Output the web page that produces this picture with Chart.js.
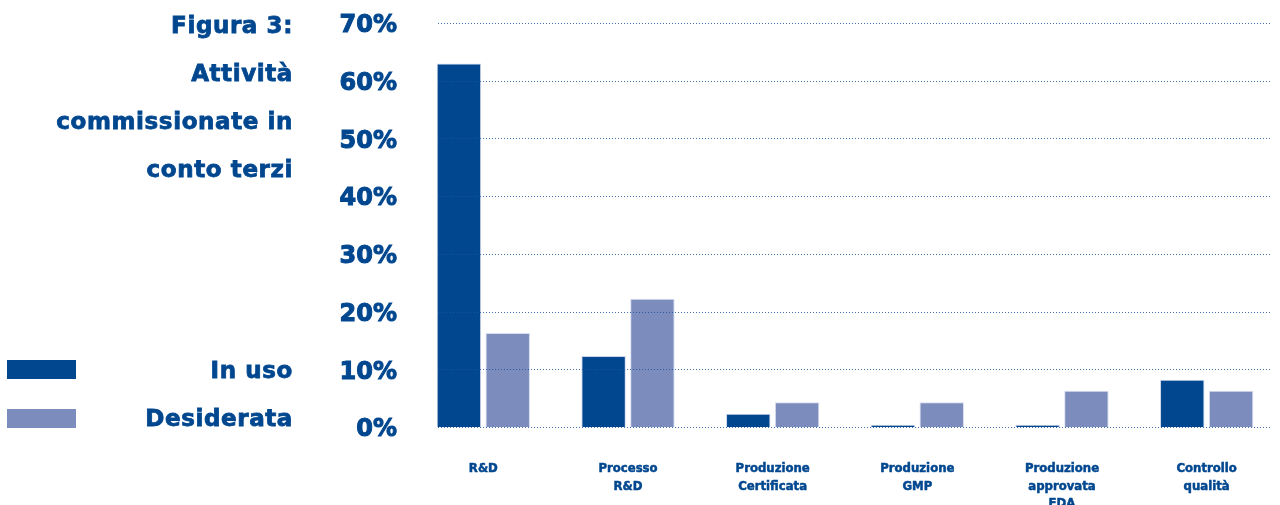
<!DOCTYPE html>
<html>
<head>
<meta charset="utf-8">
<script src="https://cdn.jsdelivr.net/npm/chart.js@4.4.0/dist/chart.umd.min.js"></script>
<style>
  body { margin: 0; background: #fff; }
  #wrap { position: relative; width: 1280px; height: 505px; overflow: hidden; }
  #myChart { position: absolute; left: 0; top: 0; }
  .side { position: absolute; left: 0; width: 293px; text-align: right;
          font-family: "DejaVu Sans", sans-serif; font-weight: bold; color: #00478f;
          font-size: 23px; letter-spacing: 0.6px; -webkit-text-stroke: 0.8px #00478f; }
  #title { top: 1px; line-height: 48px; }
  .key { position: absolute; left: 7px; width: 69px; height: 19px; }
</style>
</head>
<body>
<div id="wrap">
  <canvas id="myChart" width="1280" height="505"></canvas>
  <div id="title" class="side">Figura 3:<br>Attività<br>commissionate in<br>conto terzi</div>
  <div class="key" style="top:360px; background:#00478f;"></div>
  <div class="key" style="top:409px; background:#7b8cbd;"></div>
  <div class="side" style="top:355px; line-height:30px;">In uso</div>
  <div class="side" style="top:403px; line-height:30px;">Desiderata</div>
</div>
<script>
const categories = [
  'R&D',
  ['Processo', 'R&D'],
  ['Produzione', 'Certificata'],
  ['Produzione', 'GMP'],
  ['Produzione', 'approvata', 'FDA'],
  ['Controllo', 'qualità'],
];

const inUso = [63, 12.3, 2.3, 0.4, 0.4, 8.2];
const desiderata = [16.3, 22.2, 4.3, 4.3, 6.3, 6.3];

const yTicks = [0, 10, 20, 30, 40, 50, 60, 70];

const darkBlue = '#00478f';
const lightBlue = '#7b8cbd';

// dotted horizontal lines, drawn over the bars
const dottedGrid = {
  id: 'dottedGrid',
  afterDatasetsDraw(chart) {
    const ctx = chart.ctx;
    const y = chart.scales.y;
    ctx.save();
    ctx.strokeStyle = 'rgba(30,85,160,0.85)';
    ctx.lineWidth = 1;
    ctx.setLineDash([1, 2]);
    yTicks.forEach(function(v){
      const py = Math.round(y.getPixelForValue(v)) + 0.5;
      ctx.beginPath();
      ctx.moveTo(438, py);
      ctx.lineTo(1270, py);
      ctx.stroke();
    });
    ctx.restore();
  }
};

const data = {
  labels: categories,
  datasets: [
    {
      label: 'In uso',
      backgroundColor: darkBlue,
      borderColor: 'rgba(205,212,235,1)',
      borderWidth: 1,
      data: inUso,
    },
    {
      label: 'Desiderata',
      backgroundColor: lightBlue,
      borderColor: 'rgba(215,220,240,1)',
      borderWidth: 1,
      data: desiderata,
    }
  ]
};

const config = {
  type: 'bar',
  data: data,
  options: {
    responsive: false,
    animation: false,
    layout: { padding: { top: 23, right: 1, left: 0, bottom: 0 } },
    categoryPercentage: 0.675,
    barPercentage: 0.91,
    plugins: {
      legend: { display: false },
      tooltip: { enabled: false },
    },
    scales: {
      x: {
        grid: { display: false, drawTicks: false },
        border: { display: false },
        afterFit: function(scale){
          scale.height = 78;
          scale.paddingLeft = 0;
          scale.paddingRight = 0;
        },
        ticks: {
          padding: 33,
          color: darkBlue,
          textStrokeColor: darkBlue,
          textStrokeWidth: 0.5,
          maxRotation: 0,
          autoSkip: false,
          font: { family: '"DejaVu Sans Condensed", "DejaVu Sans", sans-serif', weight: 'bold', size: 13, lineHeight: 1.35 },
        }
      },
      y: {
        min: 0,
        max: 70,
        grid: { display: false, drawTicks: false },
        border: { display: false },
        afterFit: function(scale){
          scale.width = 411;
          scale.paddingTop = 0;
          scale.paddingBottom = 0;
        },
        afterBuildTicks: function(scale){
          scale.ticks = yTicks.map(function(v){ return { value: v }; });
        },
        ticks: {
          padding: 14,
          labelOffset: 3,
          color: darkBlue,
          textStrokeColor: darkBlue,
          textStrokeWidth: 1,
          font: { family: '"DejaVu Sans", sans-serif', weight: 'bold', size: 24 },
          callback: function(v){ return v + '%'; }
        }
      }
    }
  },
  plugins: [dottedGrid]
};

const myChart = new Chart(
  document.getElementById('myChart'),
  config
);
</script>
</body>
</html>
